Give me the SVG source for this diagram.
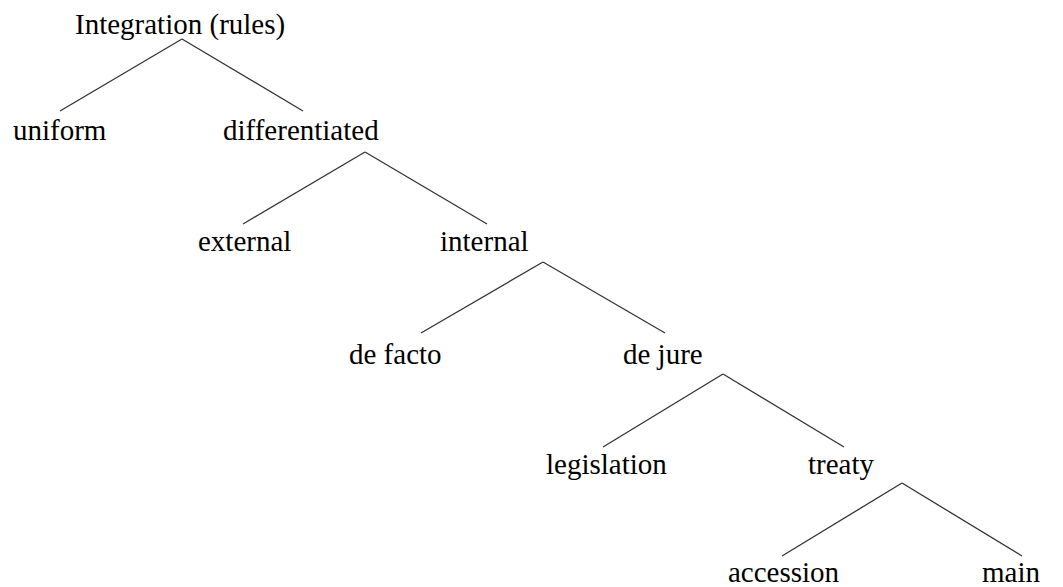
<svg xmlns="http://www.w3.org/2000/svg" width="1063" height="587" viewBox="0 0 1063 587">
<style>
text{font-family:'Liberation Serif','DejaVu Serif',serif;font-size:29px;fill:#000}
.e line{stroke:#333;stroke-width:1.3}
</style>
<rect width="1063" height="587" fill="#fff"/>
<g id="connectors" class="e">
<line x1="182" y1="39" x2="60" y2="111"/>
<line x1="182" y1="39" x2="303" y2="111"/>
<line x1="365" y1="152" x2="243" y2="224"/>
<line x1="365" y1="152" x2="487" y2="224"/>
<line x1="543" y1="262" x2="421" y2="333"/>
<line x1="543" y1="262" x2="665" y2="333"/>
<line x1="723" y1="374" x2="603" y2="447"/>
<line x1="723" y1="374" x2="844" y2="447"/>
<line x1="902" y1="483" x2="782" y2="556"/>
<line x1="902" y1="483" x2="1022" y2="556"/>
</g>
<g id="n-integration"><text x="75" y="34" font-family="Liberation Serif, serif">Integration (rules)</text></g>
<g id="n-uniform"><text x="13" y="140">uniform</text></g>
<g id="n-differentiated"><text x="223" y="140">differentiated</text></g>
<g id="n-external"><text x="198" y="251">external</text></g>
<g id="n-internal"><text x="440" y="251">internal</text></g>
<g id="n-defacto"><text x="349" y="364">de facto</text></g>
<g id="n-dejure"><text x="623" y="364">de jure</text></g>
<g id="n-legislation"><text x="546" y="474">legislation</text></g>
<g id="n-treaty"><text x="808" y="474">treaty</text></g>
<g id="n-accession"><text x="728" y="582">accession</text></g>
<g id="n-main"><text x="982" y="582">main</text></g>
</svg>
